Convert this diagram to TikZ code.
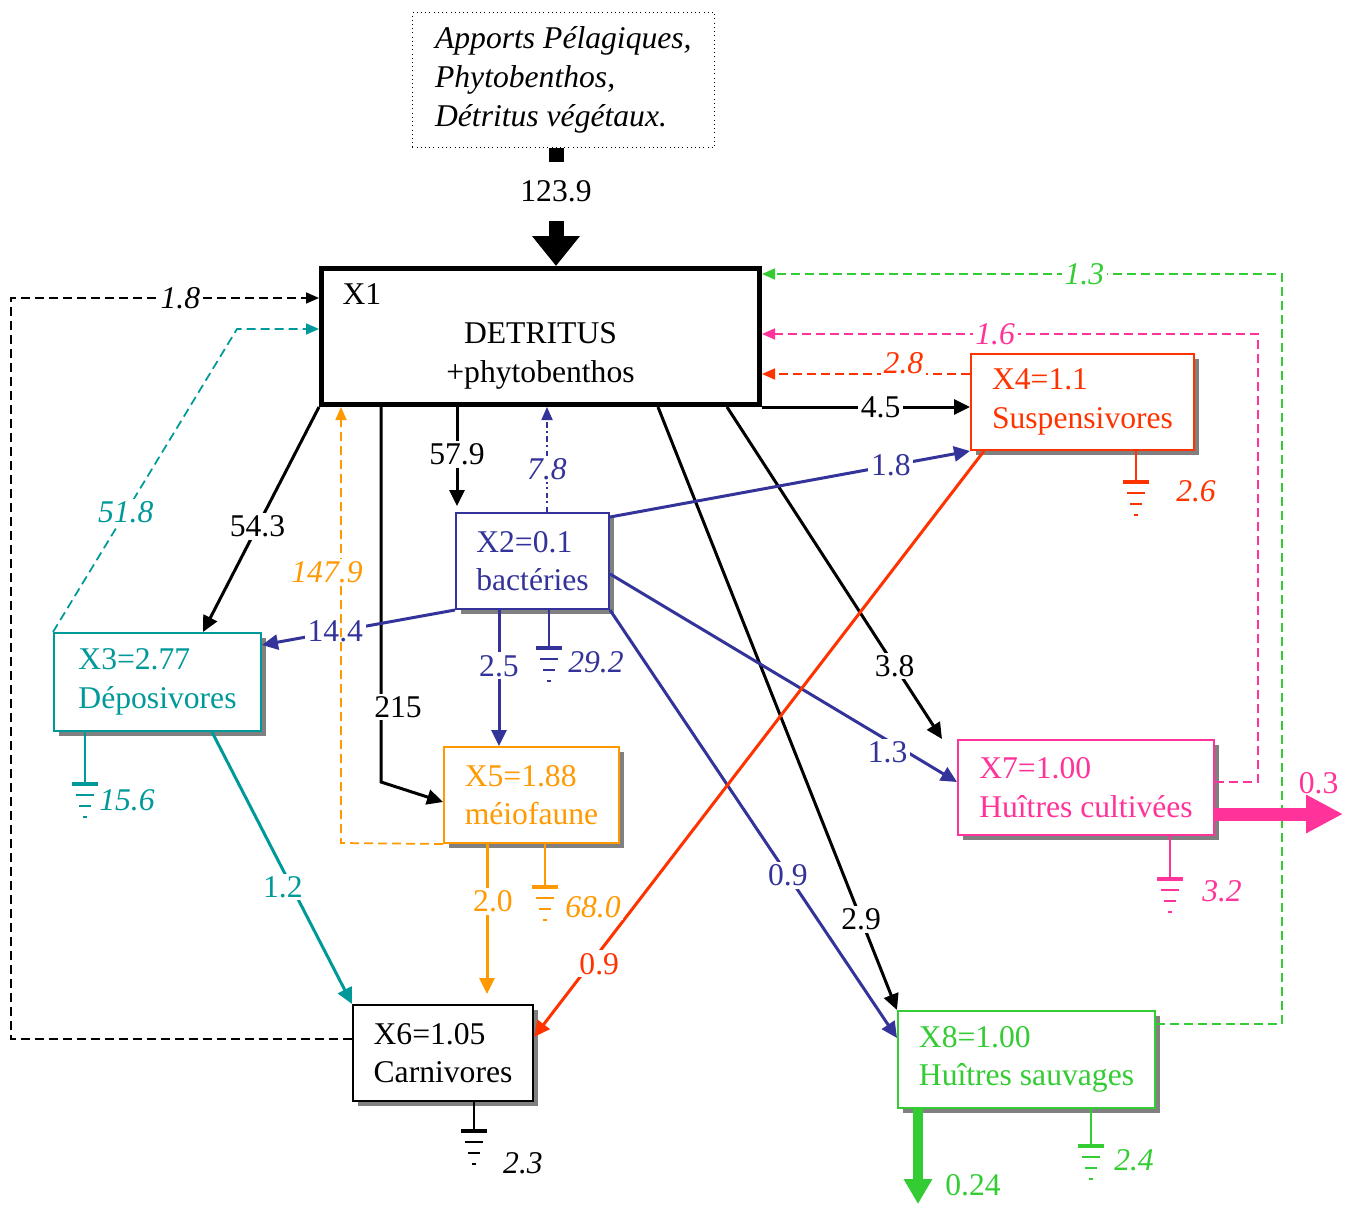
\documentclass[tikz,border=0pt]{standalone}
\usepackage{fontspec}
\setmainfont{Liberation Serif}
\usetikzlibrary{arrows.meta,shadows}
\definecolor{bactblue}{HTML}{333399}
\definecolor{depteal}{HTML}{009999}
\definecolor{susred}{HTML}{FF3300}
\definecolor{meiorange}{HTML}{FF9900}
\definecolor{cultpink}{HTML}{FF3399}
\definecolor{sauvgreen}{HTML}{33CC33}
\tikzset{
  every node/.style={font=\fontsize{18}{22}\selectfont},
  comp/.style={draw=#1, text=#1, line width=0.4mm, fill=white, anchor=north west, align=left, inner sep=0pt,
    drop shadow={shadow xshift=1mm, shadow yshift=-1mm, fill=black!50, opacity=1}},
  detbox/.style={draw, line width=1mm, fill=white, anchor=north west, inner xsep=4.2mm,
    inner ysep=0pt, text width=79.2mm, minimum height=27.2mm},
  srcbox/.style={draw, dotted, anchor=north west, align=left, inner sep=0pt, minimum width=60.4mm,
    minimum height=27mm, font=\fontsize{18}{22}\selectfont\itshape},
  flow/.style={line width=0.6mm, -{Triangle[length=3.2mm, width=3mm]}},
  back/.style={line width=0.35mm, dash pattern=on 1.8mm off 1mm, -{Triangle[length=2.6mm, width=2.2mm]}},
  lbl/.style={fill=white, inner sep=1.5pt},
  ilbl/.style={lbl, font=\fontsize{18}{22}\selectfont\itshape},
  gnd/.style={line width=0.4mm},
  sink/.pic={
    \draw[line width=0.8mm] (-13,0) -- (13,0);
    \draw[line width=0.4mm] (-9,11) -- (9,11) (-6,22) -- (6,22) (-2,33) -- (2,33);
  }
}
\begin{document}
\begin{tikzpicture}[x=0.2mm, y=-0.2mm]
\useasboundingbox (0,0) rectangle (1356,1204);

% compartments
\node[srcbox] (src) at (412,12) {Apports Pélagiques,\\Phytobenthos,\\Détritus végétaux.};
\node[detbox] (X1) at (319,266) {\raggedright X1\par\centering DETRITUS\par +phytobenthos\par};
\node[comp=bactblue, minimum width=30.6mm, minimum height=19.2mm] (X2) at (455,512) {X2=0.1\\bactéries};
\node[comp=depteal, minimum width=41.4mm, minimum height=19.6mm] (X3) at (53,632) {X3=2.77\\Déposivores};
\node[comp=susred, minimum width=44.6mm, minimum height=19.2mm] (X4) at (970,353) {X4=1.1\\Suspensivores};
\node[comp=meiorange, minimum width=35mm, minimum height=19.2mm] (X5) at (443,746) {X5=1.88\\méiofaune};
\node[comp=black, minimum width=36mm, minimum height=19.2mm] (X6) at (352,1004) {X6=1.05\\Carnivores};
\node[comp=cultpink, minimum width=51.2mm, minimum height=19mm] (X7) at (957,739) {X7=1.00\\Huîtres cultivées};
\node[comp=sauvgreen, minimum width=51.4mm, minimum height=19.4mm] (X8) at (897,1010) {X8=1.00\\Huîtres sauvages};

\coordinate (sea7) at (1343,814);
\coordinate (sea8) at (918,1204);

% external input
\draw[line width=3mm, -{Triangle[length=6mm, width=9.2mm]}] (src.south -| 556,0)
  -- node[lbl, pos=0.37, minimum height=11.8mm]{123.9} (X1.north -| 556,0);

% flows leaving the detritus pool
\draw[flow] (X1.south west) -- node[lbl, pos=0.53]{54.3} (X3.north -| 203,0);
\draw[flow, shorten >=1.2mm] (X1.south -| 457,0) -- node[lbl, pos=0.45]{57.9} (X2.north -| 457,0);
\draw[flow] (X1.south -| 381,0) -- node[lbl, pos=0.8, xshift=3.4mm]{215} (381,782) -- (X5.west |- 0,802);
\draw[flow] (X1.south east) -- node[lbl, pos=0.57]{4.5} (X4.west |- X1.south east);
\draw[flow] (X1.south -| 727,0) -- node[lbl, pos=0.78]{3.8} ([xshift=-3mm]X7.north west);
\draw[flow] (X1.south -| 658,0) -- node[lbl, pos=0.85]{2.9} (X8.north west);

% bacteria
\draw[flow, bactblue] (X2.south west) -- node[lbl, pos=0.62]{14.4} (X3.east |- 0,645);
\draw[flow, bactblue] (X2.south -| 499,0) -- node[lbl, pos=0.41]{2.5} (X5.north -| 499,0);
\draw[flow, bactblue] ([yshift=-1mm]X2.north east) -- node[lbl, pos=0.78]{1.8} (X4.south west);
\draw[flow, bactblue] (X2.east |- 0,574) -- node[lbl, pos=0.8, yshift=-2.4mm]{1.3} (X7.west |- 0,782);
\draw[flow, bactblue] (X2.south east) -- node[lbl, pos=0.62]{0.9} (X8.west |- 0,1038);

% predation
\draw[flow, susred] (X4.south -| 984,0) -- node[lbl, pos=0.875, xshift=1.8mm]{0.9} (X6.east |- 0,1037);
\draw[flow, depteal] (X3.south -| 212,0) -- node[lbl, pos=0.57, xshift=-1.8mm]{1.2} (X6.north west);
\draw[flow, meiorange, shorten >=2mm] (X5.south -| 487,0) -- node[lbl, pos=0.36, xshift=1.2mm]{2.0} (X6.north -| 487,0);

% returns to detritus
\draw[back, bactblue, dash dot] (X2.north -| 547,0) -- node[ilbl, pos=0.41]{7.8} (X1.south -| 547,0);
\draw[back, meiorange] (X5.south west) -- (341,843) -- node[ilbl, pos=0.62, xshift=-2.8mm]{147.9} (X1.south -| 341,0);
\draw[back, depteal] (X3.north west) -- node[ilbl, pos=0.395]{51.8} (237,329) -- (X1.west |- 0,329);
\draw[back] (X6.west |- 0,1039) -- (11,1039) -- (11,298) -- node[ilbl, pos=0.55]{1.8} (X1.west |- 0,298);
\draw[back, susred] (X4.west |- 0,374) -- node[ilbl, pos=0.32, yshift=2.2mm]{2.8} (X1.east |- 0,374);
\draw[back, cultpink] (X7.east |- 0,782) -- (1258,782) -- (1258,334) -- node[ilbl, pos=0.53]{1.6} (X1.east |- 0,334);
\draw[back, sauvgreen] (X8.east |- 0,1024) -- (1282,1024) -- (1282,274) -- node[ilbl, pos=0.38]{1.3} (X1.east |- 0,274);

% respiration
\draw[gnd, bactblue] (X2.south -| 549,0) -- (549,648) node[ilbl, xshift=9.4mm, yshift=-2.8mm]{29.2} pic[bactblue]{sink};
\draw[gnd, depteal] (X3.south -| 85,0) -- (85,784) node[ilbl, xshift=8.4mm, yshift=-3.2mm]{15.6} pic[depteal]{sink};
\draw[gnd, susred] (X4.south -| 1136,0) -- (1136,482) node[ilbl, xshift=12mm, yshift=-1.8mm]{2.6} pic[susred]{sink};
\draw[gnd, meiorange] (X5.south -| 545,0) -- (545,887) node[ilbl, xshift=9.6mm, yshift=-4mm]{68.0} pic[meiorange]{sink};
\draw[gnd] (X6.south -| 474,0) -- (474,1131) node[ilbl, xshift=9.8mm, yshift=-6.4mm]{2.3} pic{sink};
\draw[gnd, cultpink] (X7.south -| 1170,0) -- (1170,879) node[ilbl, xshift=10.4mm, yshift=-2.4mm]{3.2} pic[cultpink]{sink};
\draw[gnd, sauvgreen] (X8.south -| 1091,0) -- (1091,1146) node[ilbl, xshift=8.6mm, yshift=-2.8mm]{2.4} pic[sauvgreen]{sink};

% oyster exports
\draw[cultpink, line width=2.6mm, -{Triangle[length=7.4mm, width=7.2mm]}] (X7.east |- 0,814)
  -- node[pos=0.81, yshift=6.2mm]{0.3} (sea7);
\draw[sauvgreen, line width=2mm, -{Triangle[length=5mm, width=5.4mm]}] (X8.south -| 918,0)
  -- node[pos=0.8, xshift=11mm]{0.24} (sea8);
\end{tikzpicture}
\end{document}
